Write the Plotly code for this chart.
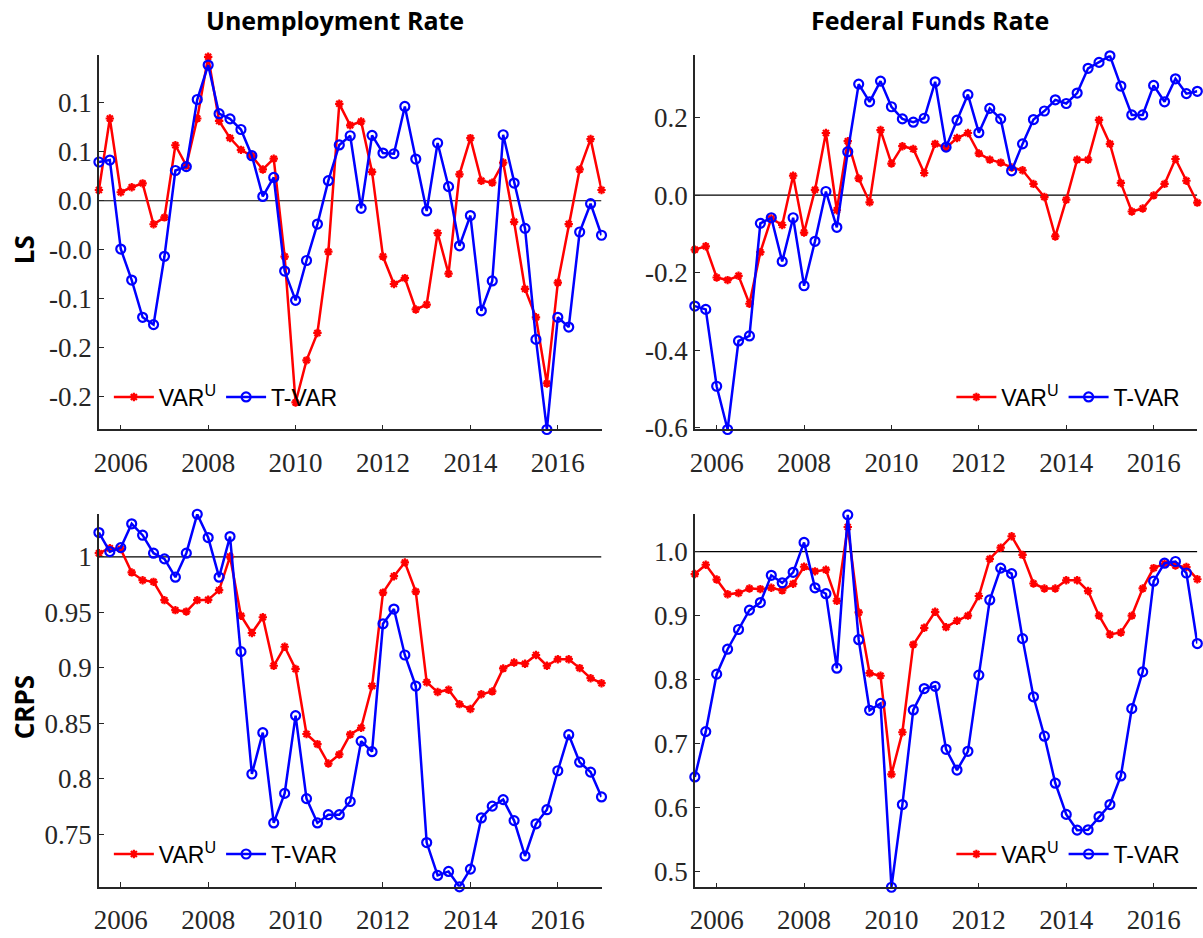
import plotly.graph_objects as go

# Quarterly evaluation dates, 2005Q3 .. 2017Q1 (decimal years)
quarters = [2005.5 + 0.25 * k for k in range(47)]

# Log score differences, unemployment rate
ls_unemp_var = [0.011, 0.084, 0.0087, 0.0138, 0.0178, -0.024, -0.017, 0.0567, 0.036, 0.084,
                0.147, 0.0815, 0.064, 0.052, 0.0456, 0.032, 0.043, -0.057, -0.206, -0.163,
                -0.135, -0.052, 0.099, 0.077, 0.081, 0.0295, -0.057, -0.085, -0.079, -0.111,
                -0.106, -0.033, -0.0745, 0.027, 0.064, 0.0205, 0.0185, 0.039, -0.0215, -0.090,
                -0.119, -0.1866, -0.0836, -0.0238, 0.032, 0.063, 0.011]
ls_unemp_tvar = [0.0396, 0.0416, -0.0493, -0.081, -0.119, -0.1265, -0.0567, 0.0309, 0.0349, 0.1034,
                 0.1386, 0.0889, 0.0836, 0.0728, 0.046, 0.0044, 0.0238, -0.0718, -0.1017, -0.061,
                 -0.0238, 0.0205, 0.057, 0.0664, -0.0077, 0.0668, 0.0487, 0.048, 0.0963, 0.0426,
                 -0.0104, 0.059, 0.0144, -0.046, -0.0151, -0.1124, -0.0819, 0.0674, 0.0181, -0.0282,
                 -0.1416, -0.2336, -0.119, -0.129, -0.0319, -0.003, -0.0352]

# Log score differences, federal funds rate
ls_ffr_var = [-0.1405, -0.132, -0.2124, -0.219, -0.208, -0.280, -0.147, -0.060, -0.077, 0.050,
              -0.0965, 0.0135, 0.160, -0.039, 0.139, 0.043, -0.0186, 0.1676, 0.0813, 0.126,
              0.119, 0.057, 0.132, 0.122, 0.147, 0.160, 0.1075, 0.0914, 0.0838, 0.071,
              0.064, 0.0288, -0.005, -0.1066, -0.0118, 0.0914, 0.0914, 0.1938, 0.132, 0.0313,
              -0.0423, -0.0347, -0.0008, 0.0288, 0.093, 0.037, -0.0195]
ls_ffr_tvar = [-0.286, -0.2945, -0.4926, -0.604, -0.3758, -0.363, -0.0728, -0.0584, -0.171, -0.0584,
               -0.2336, -0.119, 0.0093, -0.083, 0.1117, 0.286, 0.2404, 0.2937, 0.2277, 0.1964,
               0.1879, 0.198, 0.292, 0.1236, 0.193, 0.259, 0.1608, 0.2234, 0.1964, 0.0626,
               0.132, 0.1947, 0.2167, 0.2455, 0.236, 0.263, 0.3267, 0.342, 0.3589, 0.281,
               0.2065, 0.2065, 0.2827, 0.2404, 0.2997, 0.2615, 0.2675]

# CRPS ratios, unemployment rate
crps_unemp_var = [1.0033, 1.0077, 1.007, 0.986, 0.979, 0.9775, 0.961, 0.952, 0.9507, 0.961,
                  0.9613, 0.970, 1.0003, 0.947, 0.9314, 0.9456, 0.9019, 0.919, 0.899, 0.8404,
                  0.8313, 0.8138, 0.822, 0.840, 0.846, 0.8836, 0.9678, 0.9826, 0.995, 0.9687,
                  0.8871, 0.8782, 0.8803, 0.8673, 0.8629, 0.8762, 0.8788, 0.8995, 0.9048, 0.9037,
                  0.9116, 0.9019, 0.9078, 0.9078, 0.8998, 0.8907, 0.8862]
crps_unemp_tvar = [1.0219, 1.0047, 1.0083, 1.0298, 1.0195, 1.0033, 0.9982, 0.9817, 1.0033, 1.0384,
                   1.0174, 0.9817, 1.0183, 0.9146, 0.8044, 0.8416, 0.7603, 0.7869, 0.857, 0.7822,
                   0.7603, 0.7677, 0.7677, 0.7796, 0.834, 0.8245, 0.9397, 0.953, 0.9116, 0.8836,
                   0.7426, 0.713, 0.7166, 0.7027, 0.7187, 0.7648, 0.7754, 0.7813, 0.7624, 0.7305,
                   0.7595, 0.7722, 0.8073, 0.8398, 0.815, 0.8061, 0.7837]

# CRPS ratios, federal funds rate
crps_ffr_var = [0.965, 0.9795, 0.9564, 0.9333, 0.9353, 0.9425, 0.9415, 0.9435, 0.9394, 0.9497,
                0.9764, 0.9692, 0.9718, 0.923, 1.0385, 0.905, 0.810, 0.806, 0.652, 0.7177,
                0.8547, 0.881, 0.906, 0.882, 0.892, 0.900, 0.9307, 0.9887, 1.0062, 1.0241,
                0.9949, 0.9502, 0.9425, 0.9425, 0.9553, 0.9553, 0.9384, 0.900, 0.8706, 0.8737,
                0.900, 0.9425, 0.9743, 0.981, 0.9784, 0.9759, 0.9569]
crps_ffr_tvar = [0.6478, 0.7187, 0.8085, 0.8475, 0.8783, 0.9086, 0.9204, 0.963, 0.9512, 0.9677,
                 1.0144, 0.9435, 0.9343, 0.8178, 1.0575, 0.8624, 0.752, 0.7628, 0.4754, 0.6047,
                 0.7526, 0.786, 0.7895, 0.691, 0.6586, 0.6879, 0.807, 0.9245, 0.9743, 0.9656,
                 0.864, 0.7731, 0.7115, 0.6381, 0.5893, 0.5647, 0.5652, 0.5857, 0.6047, 0.6494,
                 0.7546, 0.8121, 0.9538, 0.982, 0.9846, 0.9666, 0.8563]

col_titles = ["Unemployment Rate", "Federal Funds Rate"]
row_titles = ["LS", "CRPS"]
year_ticks = [2006, 2008, 2010, 2012, 2014, 2016]

# y-axis ticks per panel (values and printed labels)
yt_ls_unemp = [0.1, 0.05, 0.0, -0.05, -0.1, -0.15, -0.2]
yl_ls_unemp = ["0.1", "0.1", "0.0", "-0.0", "-0.1", "-0.2", "-0.2"]
yt_ls_ffr = [0.2, 0.0, -0.2, -0.4, -0.6]
yl_ls_ffr = ["0.2", "0.0", "-0.2", "-0.4", "-0.6"]
yt_crps_unemp = [1.0, 0.95, 0.9, 0.85, 0.8, 0.75]
yl_crps_unemp = ["1", "0.95", "0.9", "0.85", "0.8", "0.75"]
yt_crps_ffr = [1.0, 0.9, 0.8, 0.7, 0.6, 0.5]
yl_crps_ffr = ["1.0", "0.9", "0.8", "0.7", "0.6", "0.5"]

W, H = 1203, 938
RED, BLUE = "#ff0000", "#0000ff"
AXC = "#262626"
TICKFONT = dict(family="Liberation Serif", size=27, color=AXC)

# panel boxes in pixels: (left, right, top, bottom)
panels = [
    dict(box=(94.3, 599.0, 56.0, 436.0), var=ls_unemp_var, tvar=ls_unemp_tvar,
         yr=[-0.2336, 0.1487], yt=yt_ls_unemp, yl=yl_ls_unemp, ref=0.0, leg="left", ly=403),
    dict(box=(692.7, 1197.3, 56.0, 436.0), var=ls_ffr_var, tvar=ls_ffr_tvar,
         yr=[-0.604, 0.3606], yt=yt_ls_ffr, yl=yl_ls_ffr, ref=0.0, leg="right", ly=403),
    dict(box=(94.3, 599.0, 521.7, 900.3), var=crps_unemp_var, tvar=crps_unemp_tvar,
         yr=[0.7027, 1.0387], yt=yt_crps_unemp, yl=yl_crps_unemp, ref=1.0, leg="left", ly=867),
    dict(box=(692.7, 1197.3, 521.7, 900.7), var=crps_ffr_var, tvar=crps_ffr_tvar,
         yr=[0.4754, 1.059], yt=yt_crps_ffr, yl=yl_crps_ffr, ref=1.0, leg="right", ly=867),
]

fig = go.Figure()
layout = dict(
    width=W, height=H, margin=dict(l=0, r=0, t=0, b=0),
    paper_bgcolor="white", plot_bgcolor="white", shapes=[], annotations=[],
)

for k, p in enumerate(panels):
    n = "" if k == 0 else str(k + 1)
    xa, ya, lg = "xaxis" + n, "yaxis" + n, "legend" + n
    left, right, top, bottom = p["box"]
    layout[xa] = dict(
        domain=[left / W, right / W], anchor="y" + n, range=[2005.5, 2017.0],
        tickvals=year_ticks, ticktext=[str(t) for t in year_ticks],
        ticks="inside", ticklen=5, tickwidth=1.2, tickcolor=AXC, ticklabelstandoff=8,
        showline=True, linecolor=AXC, linewidth=1.5, showgrid=False, zeroline=False,
        tickfont=TICKFONT, fixedrange=True,
    )
    layout[ya] = dict(
        domain=[1 - bottom / H, 1 - top / H], anchor="x" + n, range=p["yr"],
        tickvals=p["yt"], ticktext=p["yl"],
        ticks="inside", ticklen=5, tickwidth=1.2, tickcolor=AXC,
        showline=True, linecolor=AXC, linewidth=1.5, showgrid=False, zeroline=False,
        tickfont=TICKFONT, fixedrange=True,
    )
    # reference line (0 for LS, 1 for CRPS)
    layout["shapes"].append(dict(
        type="line", xref="x" + n, yref="y" + n, x0=2005.5, x1=2017.0,
        y0=p["ref"], y1=p["ref"], line=dict(color="black", width=1.2), layer="below",
    ))
    if p["leg"] == "left":
        lx, xanchor = (left + 10) / W, "left"
    else:
        lx, xanchor = (right - 12) / W, "right"
    layout[lg] = dict(
        orientation="h", x=lx, xanchor=xanchor, y=1 - p["ly"] / H, yanchor="middle",
        bgcolor="rgba(0,0,0,0)", borderwidth=0,
        font=dict(family="Liberation Sans", size=23, color="black"),
        itemwidth=40, tracegroupgap=0,
    )
    fig.add_trace(go.Scatter(
        x=quarters, y=p["var"], mode="lines+markers", name="VAR<sup>U</sup>",
        line=dict(color=RED, width=2.5),
        marker=dict(symbol="asterisk-open", size=7, color=RED, line=dict(color=RED, width=2.2)),
        xaxis="x" + n, yaxis="y" + n, legend=lg, cliponaxis=False,
    ))
    fig.add_trace(go.Scatter(
        x=quarters, y=p["tvar"], mode="lines+markers", name="T-VAR",
        line=dict(color=BLUE, width=2.5),
        marker=dict(symbol="circle-open", size=9, color=BLUE, line=dict(color=BLUE, width=2.2)),
        xaxis="x" + n, yaxis="y" + n, legend=lg, cliponaxis=False,
    ))

# column titles
for txt, cx in zip(col_titles, [331, 929]):
    layout["annotations"].append(dict(
        text="<b>%s</b>" % txt, x=cx / W, y=1 - 20 / H, xref="paper", yref="paper",
        xanchor="center", yanchor="middle", showarrow=False,
        font=dict(family="Open Sans", size=25, color="black"),
    ))
# row titles
for txt, cy in zip(row_titles, [253, 718]):
    layout["annotations"].append(dict(
        text="<b>%s</b>" % txt, x=19 / W, y=1 - cy / H, xref="paper", yref="paper",
        xanchor="center", yanchor="middle", showarrow=False, textangle=-90,
        font=dict(family="Open Sans", size=26, color="black"),
    ))

fig.update_layout(**layout)
fig.write_html("out.html")
